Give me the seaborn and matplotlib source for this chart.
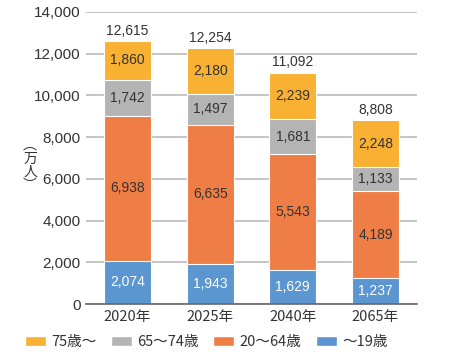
import matplotlib
matplotlib.use("Agg")
import matplotlib.pyplot as plt
import seaborn as sns
import numpy as np
import pandas as pd
from matplotlib.patches import Patch

years = ["2020年", "2025年", "2040年", "2065年"]
age_19 = [2074, 1943, 1629, 1237]
age_20_64 = [6938, 6635, 5543, 4189]
age_65_74 = [1742, 1497, 1681, 1133]
age_75 = [1860, 2180, 2239, 2248]
totals = [12615, 12254, 11092, 8808]

groups = ["～19歳", "20～64歳", "65～74歳", "75歳～"]
colors = ["#5B96D0", "#EE7E45", "#B4B4B4", "#F8B133"]
label_colors = ["white", "#333333", "#333333", "#333333"]

sns.set_theme(style="white")
plt.rcParams['font.family'] = ['Noto Sans CJK JP', 'DejaVu Sans']
num_font = ['Liberation Sans', 'DejaVu Sans']

layers = np.array([age_19, age_20_64, age_65_74, age_75])
cum = np.cumsum(layers, axis=0)

fig = plt.figure(figsize=(4.56, 3.59), dpi=100)
ax = fig.add_axes([0.189, 0.153, 0.725, 0.814])

# draw from top layer down so the cumulative bars overlap into a stack
for i in range(len(groups) - 1, -1, -1):
    df = pd.DataFrame({"year": years, "value": cum[i]})
    sns.barplot(data=df, x="year", y="value", color=colors[i], width=0.57,
                edgecolor="white", linewidth=0.8, saturation=1, ax=ax, zorder=2)

for j in range(len(years)):
    for i in range(len(groups)):
        mid = cum[i][j] - layers[i][j] / 2
        ax.text(j, mid, f"{layers[i][j]:,}", ha="center", va="center",
                fontsize=10, color=label_colors[i], family=num_font)
    ax.text(j, cum[-1][j] + 150, f"{totals[j]:,}", ha="center", va="bottom",
            fontsize=10, color="#333333", family=num_font)

ax.set_ylim(0, 14000)
ax.set_xlim(-0.5, 3.5)
ax.set_yticks(np.arange(0, 14001, 2000))
ax.set_yticklabels([f"{v:,}" for v in range(0, 14001, 2000)],
                   family=num_font, fontsize=11, color="#333333")
ax.set_xticklabels(years, fontsize=10.5, color="#333333")
ax.yaxis.grid(True, color="#BBBBBB", linewidth=1.2, zorder=0)
ax.set_axisbelow(True)
ax.set_xlabel("")
ax.set_ylabel("")
for s in ["top", "right", "left"]:
    ax.spines[s].set_visible(False)
ax.spines["bottom"].set_color("#666666")
ax.spines["bottom"].set_linewidth(1.2)
ax.tick_params(axis="y", length=0, pad=4)
ax.tick_params(axis="x", length=0, pad=4)

fig.text(0.066, 0.54, "︵\n万\n人\n︶", ha="center", va="center", fontsize=10,
         color="#333333", linespacing=0.95)

handles = [Patch(facecolor=colors[i], label=groups[i]) for i in [3, 2, 1, 0]]
fig.legend(handles=handles, loc="center", bbox_to_anchor=(0.452, 0.047), ncol=4,
           frameon=False, fontsize=10.5, handlelength=1.45, handleheight=0.75,
           columnspacing=1.0, handletextpad=0.35, labelcolor="#333333",
           borderpad=0)

fig.savefig("out.png", dpi=100)
